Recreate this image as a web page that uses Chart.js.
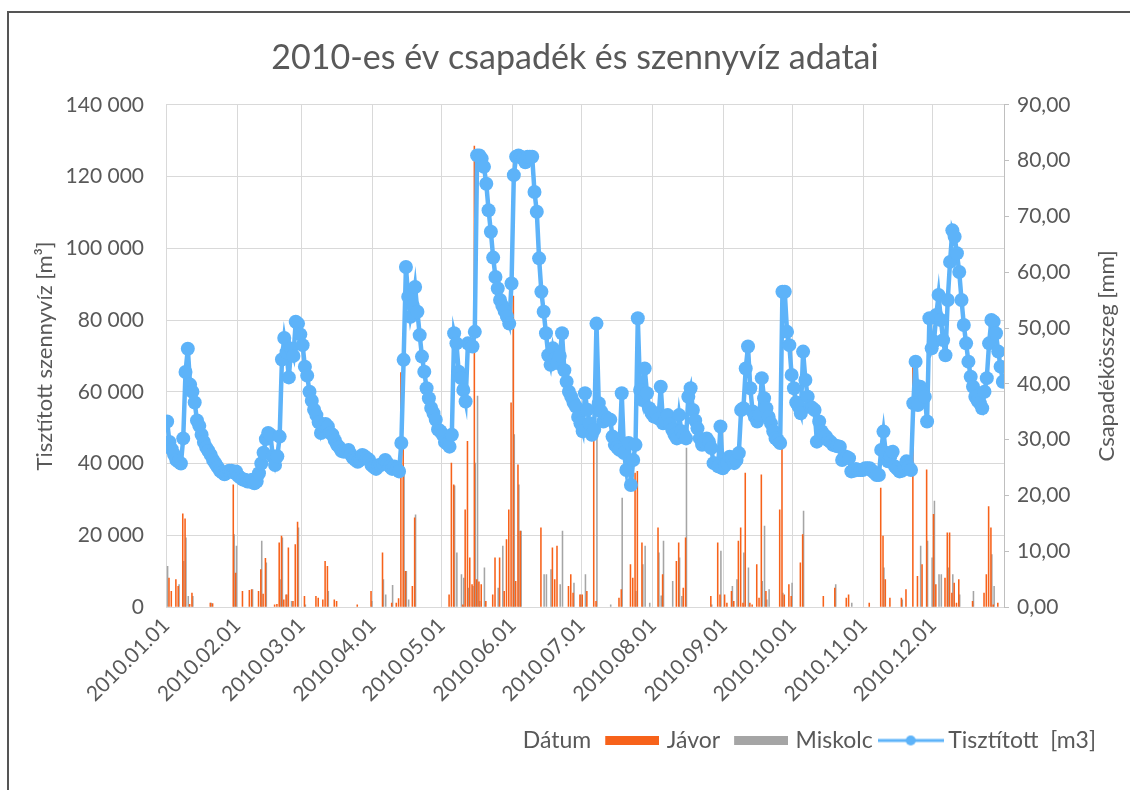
<!DOCTYPE html>
<html>
<head>
<meta charset="utf-8">
<script src="https://cdn.jsdelivr.net/npm/chart.js@4/dist/chart.umd.min.js"></script>
<style>
  html, body { margin: 0; padding: 0; background: #fff; overflow: hidden; }
  #wrap { position: relative; width: 1130px; height: 790px; overflow: hidden; }
  #frame { position: absolute; left: 7px; top: 11px; width: 1300px; height: 1000px; border-top: 2px solid #555; border-left: 2px solid #555; pointer-events: none; }
  #chart { position: absolute; left: 0; top: 0; }
</style>
</head>
<body>
<div id="wrap">
  <canvas id="chart" width="1130" height="790"></canvas>
  <div id="frame"></div>
</div>
<script>
// 2010.01.01 = 0. nap
const honapNapok = [0, 31, 59, 90, 120, 151, 181, 212, 243, 273, 304, 334]
const honapCimkek = ['2010.01.01', '2010.02.01', '2010.03.01', '2010.04.01', '2010.05.01', '2010.06.01',
  '2010.07.01', '2010.08.01', '2010.09.01', '2010.10.01', '2010.11.01', '2010.12.01']

// napi tisztított szennyvíz [m3]
const tisztitott = [
  // jan
  51700, 46000, 44000, 42500, 41000, 40500, 40000, 47000, 65500, 72000, 62000, 60000, 57000, 52000, 50500, 48000,
  46000, 44500, 43500, 42400, 41000, 40000, 39000, 38000, 37500, 37000, 37500, 38000, 38000, 37500, 37800,
  // feb
  36500, 36000, 35500, 35500, 35000, 35000, 35500, 34500, 35000, 37300, 40000, 43000, 46800, 48500, 48000, 42000,
  39600, 42000, 47500, 69000, 75000, 71000, 64000, 72000, 70000, 79500, 79000, 76000,
  // mar
  73000, 67000, 64500, 60000, 57500, 55000, 53500, 51500, 48500, 50500, 51000, 50300, 48500, 48000, 46500, 45200,
  44500, 43500, 43300, 43500, 43800, 42500, 41500, 41000, 40500, 41000, 42400, 42000, 41500, 41000, 39600,
  // apr
  39000, 38500, 39500, 39600, 40000, 41000, 40000, 39200, 38500, 39200, 38500, 37800, 45700, 68900, 94800, 86500,
  80900, 84000, 89200, 82300, 75800, 69800, 65600, 61000, 58200, 55500, 54000, 52200, 49500, 49000,
  // maj
  48000, 46000, 45500, 44700, 48000, 76300, 73500, 65600, 63800, 60500, 57300, 73500, 73000, 72600, 76700, 125900,
  125900, 125000, 122700, 118000, 110600, 104600, 97400, 92000, 88800, 85600, 84000, 82500, 81000, 79000, 90200,
  // jun
  120400, 125500, 125900, 125500, 125000, 124000, 125500, 125500, 125500, 115700, 110200, 97200, 87900, 82300, 76300, 70200,
  67500, 72100, 69300, 68000, 70000, 76300, 66000, 62800, 60000, 58600, 57000, 55900, 53000, 51200,
  // jul
  49000, 59600, 55000, 51200, 48000, 49400, 79000, 56800, 54500, 51700, 53000, 52500, 52200, 47500, 45200, 44500,
  43800, 59600, 42900, 38200, 45700, 34000, 41000, 45200, 80500, 60500, 57700, 66500, 59600, 55400, 54000,
  // aug
  53100, 54000, 52500, 61400, 51200, 52000, 53500, 51000, 49400, 48000, 47000, 53500, 49000, 48000, 47000, 58600,
  61000, 54900, 52000, 49800, 47000, 45200, 46000, 47000, 46000, 44300, 40100, 40000, 39200, 50300, 38700,
  // szep
  39500, 40000, 41900, 41500, 40100, 41000, 42900, 54900, 55400, 66500, 72600, 61000, 54500, 53000, 51700, 53500,
  63800, 58200, 55400, 53000, 51200, 49000, 47000, 46500, 45700, 87900, 87900, 76700, 73000, 64700,
  // okt
  61000, 57000, 55900, 54000, 71200, 63300, 58600, 55900, 55500, 54900, 46100, 51700, 49000, 48000, 47500, 46500,
  46000, 45200, 45000, 44800, 44700, 41000, 42000, 41800, 41500, 37800, 38000, 38500, 38200, 38200, 38200,
  // nov
  38700, 38700, 38700, 38000, 37500, 36800, 36800, 43800, 48900, 43000, 40600, 42000, 43300, 39200, 38500, 37800,
  38000, 39000, 40600, 39000, 38200, 56800, 68400, 56300, 61400, 60000, 58600, 51700, 80500, 72100,
  // dec
  74000, 81400, 87000, 80000, 74400, 70200, 85600, 96200, 105000, 103200, 98600, 93400, 85600, 78600, 73500, 68400,
  64200, 61400, 58600, 57500, 56800, 55400, 60000, 63800, 73500, 80000, 79500, 76300, 71200, 67000, 62800
]

// csapadékos napok (nap sorszáma) és csapadék [mm]
const javorNap = [1, 2, 4, 5, 7, 8, 10, 11, 19, 20, 29, 30, 33, 36, 37, 40, 41, 42, 43, 47, 48, 49, 50, 51, 52, 53, 55, 56, 57,
  60, 65, 66, 68, 69, 70, 73, 74, 83, 89, 94, 98, 100, 101, 102, 103, 104, 107, 108,
  123, 124, 125, 129, 130, 131, 132, 133, 134, 135, 136, 137, 139, 142, 143, 145, 147, 148, 149, 150,
  151, 152, 153, 154, 163, 168, 169, 170, 175, 176, 177, 180, 181, 183, 186, 187, 197, 198, 202, 203, 204, 205, 207,
  214, 216, 222, 223, 225, 226, 237, 240, 241, 243, 244, 246, 247, 249, 250, 251, 252, 254, 255, 257, 258, 259, 261,
  267, 268, 269, 271, 272, 276, 277, 286, 291, 296, 297, 306, 311, 312, 313, 315, 320, 322, 325, 327, 329, 331,
  334, 335, 339, 340, 341, 342, 343, 344, 345, 351, 356, 357, 358, 359, 360, 362]
const javorMm = [5.2, 2.8, 4.9, 3.7, 16.7, 15.8, 0.5, 2.5, 0.7, 0.6, 21.9, 6.1, 2.8, 3.0, 3.1, 2.8, 6.7, 2.3, 8.7, 0.4, 0.5, 11.5, 12.7, 1.3, 2.2, 10.6, 1.0, 11.2, 15.2,
  1.9, 1.9, 1.6, 1.3, 8.2, 7.3, 1.3, 1.0, 0.4, 2.8, 9.7, 0.7, 0.7, 1.5, 42.0, 29.0, 6.4, 3.7, 16.0,
  2.2, 25.8, 21.9, 0.4, 17.4, 29.7, 8.8, 4.0, 82.6, 4.9, 4.5, 4.0, 1.0, 2.2, 8.8, 8.8, 2.8, 12.1, 17.4, 36.6,
  55.7, 4.6, 25.5, 13.6, 14.2, 10.6, 4.9, 10.9, 3.7, 5.8, 2.5, 2.2, 2.2, 2.8, 30.9, 1.0, 1.6, 3.1, 7.6, 5.2, 24.0, 24.3, 11.5,
  14.2, 5.8, 8.2, 11.5, 3.4, 12.4, 1.9, 11.5, 2.2, 2.2, 0.7, 2.8, 1.0, 11.8, 14.2, 0.7, 24.0, 0.7, 0.4, 7.6, 1.6, 23.7, 2.8,
  17.4, 30.0, 2.2, 4.0, 1.9, 7.9, 13.0, 1.9, 3.4, 1.6, 2.2, 0.7, 21.3, 12.7, 4.9, 1.6, 1.6, 3.1, 43.1, 5.5, 7.6, 24.6,
  16.6, 4.0, 5.2, 13.3, 13.3, 2.5, 4.3, 0.7, 4.9, 1.0, 2.5, 5.8, 18.0, 14.2, 0.4, 0.7]

const miskolcNap = [0, 5, 7, 8, 9, 11, 19, 29, 30, 37, 41, 43, 49, 50, 52, 54, 57,
  60, 70, 89, 94, 95, 98, 103, 104, 105, 108,
  125, 126, 128, 129, 131, 133, 134, 135, 136, 138, 144, 146,
  151, 153, 154, 164, 165, 167, 171, 172, 177, 180, 182, 187, 193, 198, 204, 207, 208, 210,
  214, 215, 216, 220, 223, 224, 226, 237, 241, 246, 248, 251, 253, 259, 260, 261, 262, 268, 272,
  277, 291, 298, 312, 320, 328, 331, 333, 334, 336, 337, 340, 342, 345, 351, 359, 360]
const miskolcMm = [7.3, 4.0, 8.2, 12.4, 1.9, 1.9, 0.7, 13.0, 10.9, 3.1, 11.8, 7.9, 4.9, 12.4, 2.2, 1.0, 14.2,
  0.4, 2.8, 1.0, 4.9, 2.2, 3.9, 25.0, 6.4, 1.3, 16.5,
  21.7, 9.7, 5.8, 5.2, 3.4, 3.7, 25.8, 37.8, 1.0, 7.0, 3.4, 10.9,
  30.9, 21.9, 13.6, 5.8, 5.8, 6.7, 4.0, 13.6, 4.3, 2.2, 5.8, 30.9, 0.4, 19.5, 2.8, 7.6, 10.9, 0.7,
  9.7, 2.0, 11.8, 4.6, 8.8, 1.9, 28.5, 0.4, 10.0, 3.7, 4.9, 9.7, 7.0, 4.6, 14.5, 1.3, 3.1, 2.5, 4.3,
  17.2, 4.0, 0.7, 7.0, 1.3, 10.9, 11.8, 8.8, 19.0, 5.8, 5.8, 7.0, 5.8, 2.2, 2.8, 9.4, 3.7]

const sorozatNevek = ['Jávor', 'Miskolc', 'Tisztított  [m3]']
const balCim = 'Tisztított szennyvíz [m³]'
const jobbCim = 'Csapadékösszeg [mm]'
const xCim = 'Dátum'

const SZURKE = '#595959'
const NARANCS = '#F7621A'
const KEKES = '#5DB3F9'
const EZUST = '#A5A5A5'

Chart.defaults.font.family = 'Lato'
Chart.defaults.color = SZURKE

function ezres(v) {
  return String(v).replace(/\B(?=(\d{3})+(?!\d))/g, ' ')
}

function napiPontok(napok, ertekek) {
  return napok.map((nap, i) => ({ x: nap + 0.5, y: ertekek[i] }))
}

// legend jelek kis canvasra rajzolva
function teglalapJel(szin) {
  var c = document.createElement('canvas')
  c.width = 60; c.height = 9
  var g = c.getContext('2d')
  g.fillStyle = szin
  g.fillRect(6, 0, 54, 9)
  return c
}

function vonalJel() {
  var c = document.createElement('canvas')
  c.width = 66; c.height = 12
  var g = c.getContext('2d')
  g.strokeStyle = KEKES
  g.lineWidth = 3
  g.beginPath(); g.moveTo(0, 6); g.lineTo(66, 6); g.stroke()
  g.fillStyle = KEKES
  g.beginPath(); g.arc(33, 6, 5, 0, Math.PI * 2); g.fill()
  return c
}

function uresJel() {
  var c = document.createElement('canvas')
  c.width = 1; c.height = 1
  return c
}

const tengelyCimek = {
  id: 'tengelyCimek',
  afterDraw(chart) {
    var ctx = chart.ctx
    var area = chart.chartArea
    var kozep = (area.top + area.bottom) / 2
    ctx.save()
    ctx.font = '22px Lato'
    ctx.fillStyle = SZURKE
    ctx.textAlign = 'center'
    ctx.textBaseline = 'middle'
    ;[[45, balCim], [1107, jobbCim]].forEach(([x, szoveg]) => {
      ctx.save()
      ctx.translate(x, kozep)
      ctx.rotate(-Math.PI / 2)
      ctx.fillText(szoveg, 0, 0)
      ctx.restore()
    })
    ctx.restore()
  }
}

const jelek = [uresJel(), teglalapJel(NARANCS), teglalapJel(EZUST), vonalJel()]

new Chart(document.getElementById('chart'), {
  type: 'bar',
  data: {
    datasets: [
      {
        type: 'line',
        label: sorozatNevek[2],
        data: tisztitott.map((v, i) => ({ x: i + 0.5, y: v })),
        yAxisID: 'y',
        borderColor: KEKES,
        backgroundColor: KEKES,
        borderWidth: 4.5,
        pointRadius: 7,
        pointBorderWidth: 0,
        pointBackgroundColor: KEKES,
        tension: 0
      },
      {
        label: sorozatNevek[0],
        data: napiPontok(javorNap, javorMm),
        yAxisID: 'y1',
        backgroundColor: NARANCS,
        barThickness: 0.9
      },
      {
        label: sorozatNevek[1],
        data: napiPontok(miskolcNap, miskolcMm),
        yAxisID: 'y1',
        backgroundColor: EZUST,
        barThickness: 0.9
      }
    ]
  },
  options: {
    responsive: false,
    animation: false,
    devicePixelRatio: 1,
    layout: { padding: { left: 42, right: 22, top: 0, bottom: 28 } },
    plugins: {
      title: {
        display: true,
        text: '2010-es év csapadék és szennyvíz adatai',
        color: SZURKE,
        font: { size: 34, weight: 'normal' },
        padding: { top: 38, bottom: 26 }
      },
      legend: {
        position: 'bottom',
        align: 'end',
        onClick: () => {},
        labels: {
          usePointStyle: true,
          pointStyleWidth: 52,
          padding: 12,
          color: SZURKE,
          font: { size: 23 },
          generateLabels: (chart) => {
            var ds = chart.data.datasets
            var sor = [[xCim, 0, -1], [ds[1].label, 1, 1], [ds[2].label, 2, 2], [ds[0].label, 3, 0]]
            return sor.map(([szoveg, jel, index]) => ({
              text: szoveg, pointStyle: jelek[jel], fontColor: SZURKE,
              lineWidth: 0, hidden: false, datasetIndex: index
            }))
          }
        }
      },
      tooltip: { enabled: false }
    },
    scales: {
      x: {
        type: 'linear',
        min: 0,
        max: 365,
        offset: false,
        afterBuildTicks: (axis) => { axis.ticks = honapNapok.map(v => ({ value: v })) },
        afterFit: (axis) => { axis.height = 110 },
        grid: { color: '#d9d9d9', drawTicks: false, offset: false },
        border: { color: '#d9d9d9' },
        ticks: {
          autoSkip: false,
          minRotation: 45,
          maxRotation: 45,
          padding: 6,
          color: SZURKE,
          font: { size: 21 },
          callback: (v, i) => honapCimkek[i]
        }
      },
      y: {
        position: 'left',
        min: 0,
        max: 140000,
        afterFit: (axis) => { axis.width = 124 },
        grid: { color: '#d9d9d9', drawTicks: false },
        border: { display: false },
        ticks: { stepSize: 20000, padding: 22, color: SZURKE, font: { size: 21 }, callback: (v) => ezres(v) }
      },
      y1: {
        position: 'right',
        min: 0,
        max: 90,
        afterFit: (axis) => { axis.width = 104 },
        grid: { drawOnChartArea: false, tickLength: 5, tickColor: '#bfbfbf' },
        border: { color: '#bfbfbf' },
        ticks: { stepSize: 10, padding: 8, color: SZURKE, font: { size: 21 }, callback: (v) => v.toFixed(2).replace('.', ',') }
      }
    }
  },
  plugins: [tengelyCimek]
})
</script>
</body>
</html>
